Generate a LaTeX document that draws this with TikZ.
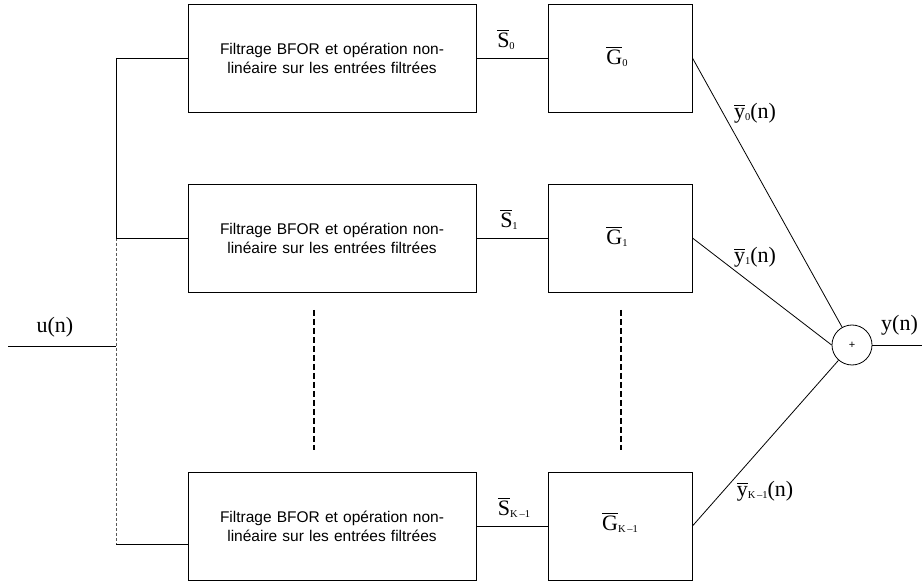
\documentclass[tikz,border=0pt]{standalone}
\usepackage{fontspec}
\setmainfont{Liberation Serif}
\newfontfamily\boxfont{Liberation Sans}
\newcommand\ovl[1]{\leavevmode\setbox0\hbox{#1}\rlap{\raisebox{\dimexpr\ht0+2.5pt\relax}{\rule{\wd0}{0.7pt}}}\box0}
\newcommand\sbs[1]{\raisebox{-2pt}{\fontsize{10.5}{10.5}\selectfont #1}}
\begin{document}
\begin{tikzpicture}[x=1pt,y=-1pt,
  filt/.style={draw,line width=0.9pt,minimum width=288pt,minimum height=108pt,inner sep=0pt,
    font=\boxfont\fontsize{15.5}{19}\selectfont,align=center,text width=270pt},
  gbox/.style={draw,line width=0.9pt,minimum width=144pt,minimum height=108pt,inner sep=0pt},
  wire/.style={line width=0.8pt},
  lbl/.style={font=\fontsize{22}{24}\selectfont,inner sep=0pt},
  dots/.style={line width=2pt,dash pattern=on 6pt off 3pt}]
\useasboundingbox (0,0) rectangle (922,585);
\node[filt] (f0) at (332,58) {Filtrage BFOR et opération non-\\linéaire sur les entrées filtrées};
\node[filt] (f1) at (332,238) {Filtrage BFOR et opération non-\\linéaire sur les entrées filtrées};
\node[filt] (f2) at (332,526) {Filtrage BFOR et opération non-\\linéaire sur les entrées filtrées};
\node[gbox] (g0) at (620,58) {};
\node[gbox] (g1) at (620,238) {};
\node[gbox] (g2) at (620,526) {};
\node[lbl] (gl0) at (617,57) {\ovl{G}\sbs{0}};
\node[lbl] (gl1) at (617,237) {\ovl{G}\sbs{1}};
\node[lbl] (gl2) at (620,523) {\ovl{G}\sbs{K\,–1}};
\node[draw,circle,line width=0.8pt,minimum size=40pt,inner sep=0pt,font=\boxfont\fontsize{11}{11}\selectfont] (sum) at (852,345) {+};
\coordinate (in) at (8,346);
\coordinate (out) at (922,345);
\coordinate (b0) at (116,58);
\coordinate (b1) at (116,238);
\coordinate (bin) at (116,346);
\coordinate (b2) at (116,544);
\coordinate (d0a) at (314,310);
\coordinate (d0b) at (314,450);
\coordinate (d1a) at (621,310);
\coordinate (d1b) at (621,450);
\draw[wire] (in) -- (bin);
\draw[wire] (b0) -- (b1);
\draw[line width=0.7pt,gray!70!black,dash pattern=on 3pt off 2pt] (b1) -- (b2);
\draw[wire] (b0) -- (f0.west |- b0);
\draw[wire] (b1) -- (f1.west |- b1);
\draw[wire] (b2) -- (f2.west |- b2);
\draw[wire] (f0) -- (g0);
\draw[wire] (f1) -- (g1);
\draw[wire] (f2) -- (g2);
\draw[wire] (g0.east) -- (sum);
\draw[wire] (g1.east) -- (sum.west);
\draw[wire] (g2.east) -- (sum);
\draw[wire] (sum) -- (out);
\draw[dots] (d0a) -- (d0b);
\draw[dots] (d1a) -- (d1b);
\node[lbl] (s0) at (506,40) {\ovl{S}\sbs{0}};
\node[lbl] (s1) at (509,220) {\ovl{S}\sbs{1}};
\node[lbl] (s2) at (514,508) {\ovl{S}\sbs{K\,–1}};
\node[lbl] (y0) at (755,113) {\ovl{y}\sbs{0}(n)};
\node[lbl] (y1) at (755,257) {\ovl{y}\sbs{1}(n)};
\node[lbl] (y2) at (765,491) {\ovl{y}\sbs{K\,–1}(n)};
\node[lbl] (u) at (55,327) {u(n)};
\node[lbl,anchor=west] (yo) at (881,325) {y(n)};
\end{tikzpicture}
\end{document}
